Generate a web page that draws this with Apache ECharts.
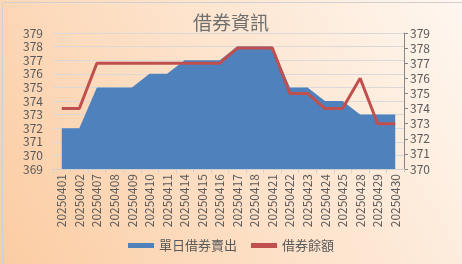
<!DOCTYPE html>
<html>
<head>
<meta charset="utf-8">
<script src="https://cdn.jsdelivr.net/npm/echarts@6/dist/echarts.min.js"></script>
<style>
html,body{margin:0;padding:0;}
#c{width:462px;height:264px;}
</style>
</head>
<body>
<div id="c"></div>
<script>
const categories = ['20250401','20250402','20250407','20250408','20250409','20250410','20250411','20250414','20250415','20250416','20250417','20250418','20250421','20250422','20250423','20250424','20250425','20250428','20250429','20250430'];
const dailySell = [372,372,375,375,375,376,376,377,377,377,378,378,378,375,375,374,374,373,373,373];
const balance = [374,374,377,377,377,377,377,377,377,377,378,378,378,375,375,374,374,376,373,373];
const leftTicks = {min:369, max:379, interval:1};
const rightTicks = {min:370, max:379, interval:1};

const font = '"Noto Sans CJK TC", "Noto Sans", sans-serif';
const chart = echarts.init(document.getElementById('c'));
chart.setOption({
  animation:false,
  backgroundColor: {
    type:'linear', x:1, y:0, x2:0, y2:1,
    colorStops:[{offset:0,color:'#fef7f0'},{offset:0.5,color:'#fde2ca'},{offset:1,color:'#fbcca2'}]
  },
  graphic:[{type:'rect', left:0, top:0, shape:{x:0.5,y:0.5,width:461,height:263}, style:{fill:'none', stroke:'#d0d0d0', lineWidth:1}, silent:true}],
  title:{
    text:'借券資訊', left:'center', top:8,
    textStyle:{fontFamily:font, fontSize:19, fontWeight:'normal', color:'#6f6f6f'}
  },
  legend:{
    top:234, left:'center',
    itemWidth:26, itemHeight:5, itemGap:14,
    textStyle:{fontFamily:font, fontSize:13, color:'#595959'},
    data:[{name:'單日借券賣出', icon:'rect'},{name:'借券餘額', icon:'rect'}]
  },
  grid:{left:53, right:58, top:33, bottom:95},
  xAxis:{
    type:'category', data:categories, boundaryGap:true,
    axisLine:{lineStyle:{color:'#d0d0d0'}},
    axisTick:{show:true, length:4, lineStyle:{color:'#d0d0d0'}},
    axisLabel:{rotate:90, fontFamily:font, fontSize:12, color:'#595959', margin:5, interval:0}
  },
  yAxis:[
    {type:'value', min:leftTicks.min, max:leftTicks.max, interval:leftTicks.interval,
     axisLine:{show:false}, axisTick:{show:false},
     axisLabel:{fontFamily:font, fontSize:12, color:'#595959', margin:10},
     splitLine:{lineStyle:{color:'#d9d9d9'}}},
    {type:'value', min:rightTicks.min, max:rightTicks.max, interval:rightTicks.interval, position:'right',
     axisLine:{show:true, lineStyle:{color:'#868686'}},
     axisTick:{show:true, length:4, lineStyle:{color:'#868686'}},
     axisLabel:{fontFamily:font, fontSize:12, color:'#595959', margin:6},
     splitLine:{show:false}}
  ],
  series:[
    {name:'單日借券賣出', type:'line', data:dailySell, yAxisIndex:0, showSymbol:false, symbol:'none',
     itemStyle:{color:'#4f81bd'}, lineStyle:{width:0, color:'#4f81bd'},
     areaStyle:{color:'#4f81bd', opacity:1}},
    {name:'借券餘額', type:'line', data:balance, yAxisIndex:1, showSymbol:false, symbol:'none',
     itemStyle:{color:'#c0504d'}, lineStyle:{width:3, color:'#c0504d'}}
  ]
});
</script>
</body>
</html>
